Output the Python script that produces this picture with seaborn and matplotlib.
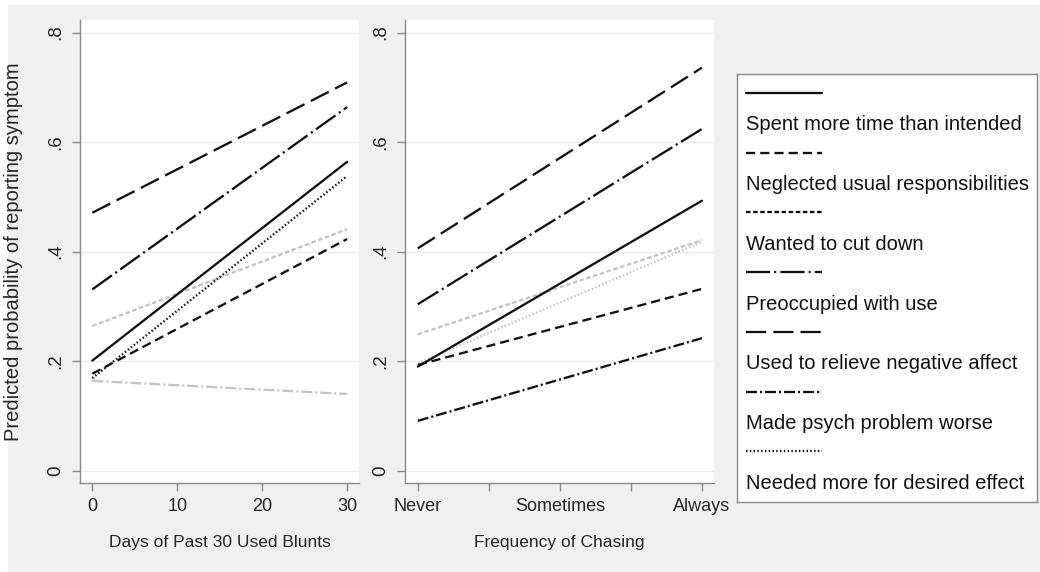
import matplotlib
matplotlib.use('Agg')
import matplotlib.pyplot as plt
import matplotlib.patches as mpatches
from matplotlib.lines import Line2D
import seaborn as sns
import pandas as pd

sns.set_style('white')
plt.rcParams['font.family'] = ['Liberation Sans', 'DejaVu Sans']

symptoms = ['Spent more time than intended', 'Neglected usual responsibilities',
            'Wanted to cut down', 'Preoccupied with use',
            'Used to relieve negative affect', 'Made psych problem worse',
            'Needed more for desired effect']

# predicted probabilities at the ends of each x range
blunts_x = [0, 30]
blunts_y = {
    'Spent more time than intended': [0.201, 0.564],
    'Neglected usual responsibilities': [0.177, 0.423],
    'Wanted to cut down': [0.264, 0.441],
    'Preoccupied with use': [0.331, 0.664],
    'Used to relieve negative affect': [0.471, 0.709],
    'Made psych problem worse': [0.164, 0.140],
    'Needed more for desired effect': [0.169, 0.538],
}
blunts_gray = ['Wanted to cut down', 'Made psych problem worse']

chasing_x = [0, 4]
chasing_ticks = [0, 1, 2, 3, 4]
chasing_labels = ['Never', '', 'Sometimes', '', 'Always']
chasing_y = {
    'Spent more time than intended': [0.190, 0.493],
    'Neglected usual responsibilities': [0.193, 0.332],
    'Wanted to cut down': [0.249, 0.421],
    'Preoccupied with use': [0.304, 0.624],
    'Used to relieve negative affect': [0.406, 0.736],
    'Made psych problem worse': [0.091, 0.242],
    'Needed more for desired effect': [0.196, 0.418],
}
chasing_gray = ['Wanted to cut down', 'Needed more for desired effect']

styles = {
    'Spent more time than intended': '-',
    'Neglected usual responsibilities': (0, (4.0, 2.2)),
    'Wanted to cut down': (0, (2.0, 1.1)),
    'Preoccupied with use': (0, (10.5, 1.8, 0.9, 1.8)),
    'Used to relieve negative affect': (0, (8.8, 3.1)),
    'Made psych problem worse': (0, (4.8, 1.3, 0.9, 1.3)),
    'Needed more for desired effect': (0, (0.65, 1.0)),
}
BLACK = '#111111'
GRAY = '#c4c4c4'
LW = 1.65

fig = plt.figure(figsize=(10.4, 5.72), dpi=100, facecolor='white')
fig.patches.append(mpatches.Rectangle((8 / 1040, 0), 1 - 8 / 1040, 567 / 572,
                                      transform=fig.transFigure, facecolor='#f0f0f0',
                                      edgecolor='none', zorder=-10))

ax1 = fig.add_axes([80 / 1040, 89 / 572, 279 / 1040, 463 / 572])
ax2 = fig.add_axes([405 / 1040, 89 / 572, 309 / 1040, 463 / 572])


def draw_panel(ax, xs, ydict, grays):
    for name in symptoms:
        df = pd.DataFrame({'x': xs, 'p': ydict[name]})
        col = GRAY if name in grays else BLACK
        sns.lineplot(data=df, x='x', y='p', ax=ax, color=col, linestyle=styles[name],
                     linewidth=LW, dash_capstyle='butt', zorder=3 if col == BLACK else 2)
    ax.set_facecolor('white')
    ax.set_ylim(-0.0225, 0.823)
    ax.set_yticks([0, 0.2, 0.4, 0.6, 0.8])
    ax.set_yticklabels(['0', '.2', '.4', '.6', '.8'], rotation=90, va='center',
                       fontsize=13.5)
    ax.grid(axis='y', color='#ececec', linewidth=1)
    ax.grid(axis='x', visible=False)
    for s in ['top', 'right']:
        ax.spines[s].set_visible(False)
    for s in ['left', 'bottom']:
        ax.spines[s].set_color('#8a8a8a')
        ax.spines[s].set_linewidth(1)
    ax.tick_params(axis='both', direction='out', length=6, width=1, color='#8a8a8a',
                   left=True, bottom=True, pad=5)
    ax.set_ylabel('')


draw_panel(ax1, blunts_x, blunts_y, blunts_gray)
ax1.set_xlim(-1.45, 31.4)
ax1.set_xticks([0, 10, 20, 30])
ax1.set_xticklabels(['0', '10', '20', '30'], fontsize=13)
ax1.set_xlabel('Days of Past 30 Used Blunts', fontsize=12.5, labelpad=14)
ax1.set_ylabel('Predicted probability of reporting symptom', fontsize=14.5)
ax1.yaxis.set_label_coords(-0.205, 0.5)

draw_panel(ax2, chasing_x, chasing_y, chasing_gray)
ax2.set_xlim(-0.18, 4.17)
ax2.set_xticks(chasing_ticks)
ax2.set_xticklabels(chasing_labels, fontsize=13)
ax2.set_xlabel('Frequency of Chasing', fontsize=12.5, labelpad=14)

# legend box: key sample above each label
lax = fig.add_axes([737 / 1040, 70 / 572, 300 / 1040, 428 / 572])
lax.set_xlim(0, 300)
lax.set_ylim(428, 0)
lax.set_xticks([])
lax.set_yticks([])
lax.set_facecolor('white')
for s in lax.spines.values():
    s.set_color('#8a8a8a')
    s.set_linewidth(1)
for i, name in enumerate(symptoms):
    y_line = 18.7 + i * 59.8
    lax.add_line(Line2D([9, 85], [y_line, y_line], color=BLACK, linewidth=LW,
                        linestyle=styles[name], dash_capstyle='butt'))
    lax.text(9.5, y_line + 32, name, fontsize=14.5, va='center', ha='left', color='#111111')

fig.savefig('out.png', dpi=100, facecolor=fig.get_facecolor())
